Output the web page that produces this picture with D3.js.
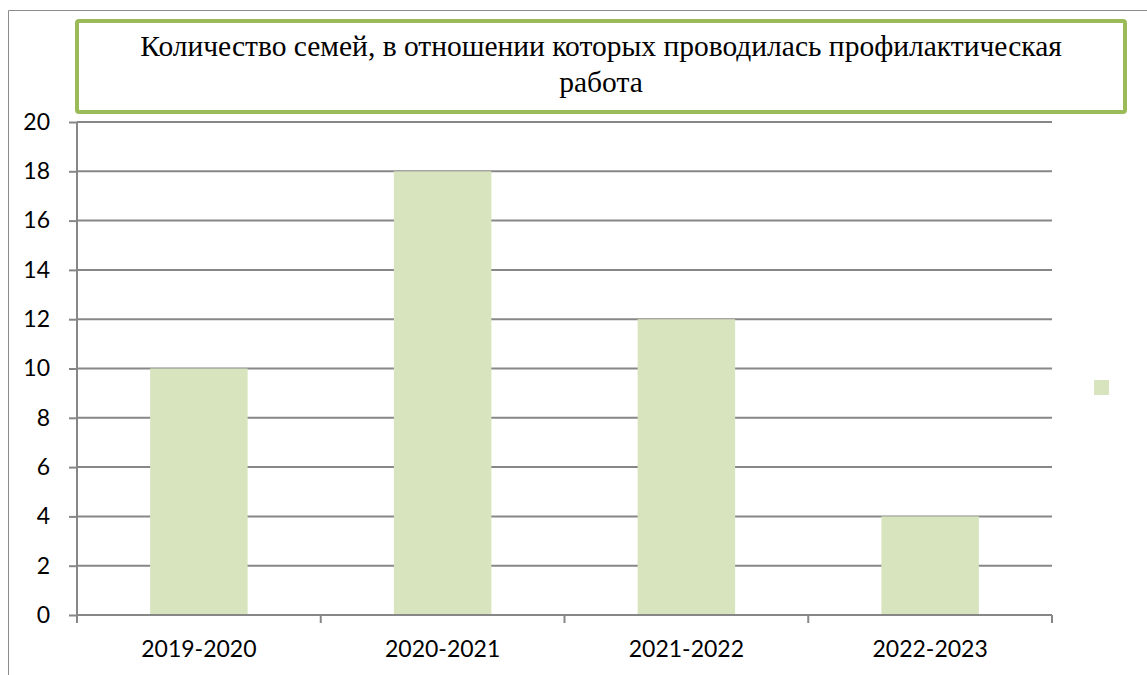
<!DOCTYPE html>
<html>
<head>
<meta charset="utf-8">
<script src="https://cdn.jsdelivr.net/npm/d3@7"></script>
<style>
  body { margin: 0; background: #fff; }
  svg { display: block; }
</style>
</head>
<body>
<div id="chart"></div>
<script>
// data
const categories = ["2019-2020", "2020-2021", "2021-2022", "2022-2023"];
const values = [10, 18, 12, 4];
const yTicks = [0, 2, 4, 6, 8, 10, 12, 14, 16, 18, 20];
const titleLines = ["Количество семей, в отношении которых проводилась профилактическая", "работа"];

const width = 1147, height = 675;
const plot = { left: 77, right: 1052, top: 122, bottom: 615 };
const labelFont = "Lato, 'Open Sans', sans-serif";

const svg = d3.select("#chart").append("svg")
    .attr("width", width)
    .attr("height", height);

// outer frame (only top and left visible)
svg.append("path")
    .attr("d", "M8.5," + height + "V10.5H" + width)
    .attr("fill", "none")
    .attr("stroke", "#8c8c8c")
    .attr("stroke-width", 1);

const x = d3.scaleBand()
    .domain(categories)
    .range([plot.left, plot.right])
    .paddingInner(0.6)
    .paddingOuter(0.3);

const xGroup = d3.scaleBand()
    .domain(categories)
    .range([plot.left, plot.right]);

const y = d3.scaleLinear()
    .domain([0, 20])
    .range([plot.bottom, plot.top]);

// gridlines
svg.append("g")
    .selectAll("line")
    .data(yTicks.filter(d => d > 0))
    .enter().append("line")
    .attr("x1", plot.left)
    .attr("x2", plot.right)
    .attr("y1", d => y(d))
    .attr("y2", d => y(d))
    .attr("stroke", "#878787")
    .attr("stroke-width", 2);

// bars
svg.append("g")
    .selectAll("rect")
    .data(values)
    .enter().append("rect")
    .attr("x", (d, i) => x(categories[i]))
    .attr("width", x.bandwidth())
    .attr("y", d => y(d))
    .attr("height", d => y(0) - y(d))
    .attr("fill", "#d7e4bd");

// y axis
const yAxis = d3.axisLeft(y)
    .tickValues(yTicks)
    .tickSize(8)
    .tickPadding(19);

svg.append("g")
    .attr("transform", "translate(" + plot.left + ",0)")
    .call(yAxis)
    .call(g => g.select(".domain").attr("d", "M0," + plot.bottom + "V" + plot.top))
    .call(g => g.selectAll("line, .domain").attr("stroke", "#878787").attr("stroke-width", 2))
    .call(g => g.selectAll("text")
        .attr("font-family", labelFont)
        .attr("font-size", 23)
        .attr("fill", "#000"));

// x axis with ticks at category boundaries
const bounds = categories.map(c => xGroup(c)).concat([plot.right]);
const xg = svg.append("g");
xg.append("line")
    .attr("x1", plot.left).attr("x2", plot.right)
    .attr("y1", plot.bottom).attr("y2", plot.bottom)
    .attr("stroke", "#878787").attr("stroke-width", 2);
xg.selectAll(".tick")
    .data(bounds)
    .enter().append("line")
    .attr("x1", d => d).attr("x2", d => d)
    .attr("y1", plot.bottom).attr("y2", plot.bottom + 8)
    .attr("stroke", "#878787").attr("stroke-width", 2);
xg.selectAll("text")
    .data(categories)
    .enter().append("text")
    .attr("x", d => xGroup(d) + xGroup.bandwidth() / 2)
    .attr("y", 657)
    .attr("text-anchor", "middle")
    .attr("font-family", labelFont)
    .attr("font-size", 23)
    .text(d => d);

// legend swatch (no label)
svg.append("rect")
    .attr("x", 1094).attr("y", 380)
    .attr("width", 15).attr("height", 15)
    .attr("fill", "#d7e4bd");

// title box
svg.append("rect")
    .attr("x", 77).attr("y", 21)
    .attr("width", 1048).attr("height", 91)
    .attr("rx", 2)
    .attr("fill", "#fff")
    .attr("stroke", "#9bbb59")
    .attr("stroke-width", 4);

svg.append("g")
    .selectAll("text")
    .data(titleLines)
    .enter().append("text")
    .attr("x", 601)
    .attr("y", (d, i) => 56 + i * 36)
    .attr("text-anchor", "middle")
    .attr("font-family", "'Liberation Serif', 'Times New Roman', serif")
    .attr("font-size", 29.5)
    .attr("fill", "#000")
    .text(d => d);
</script>
</body>
</html>
